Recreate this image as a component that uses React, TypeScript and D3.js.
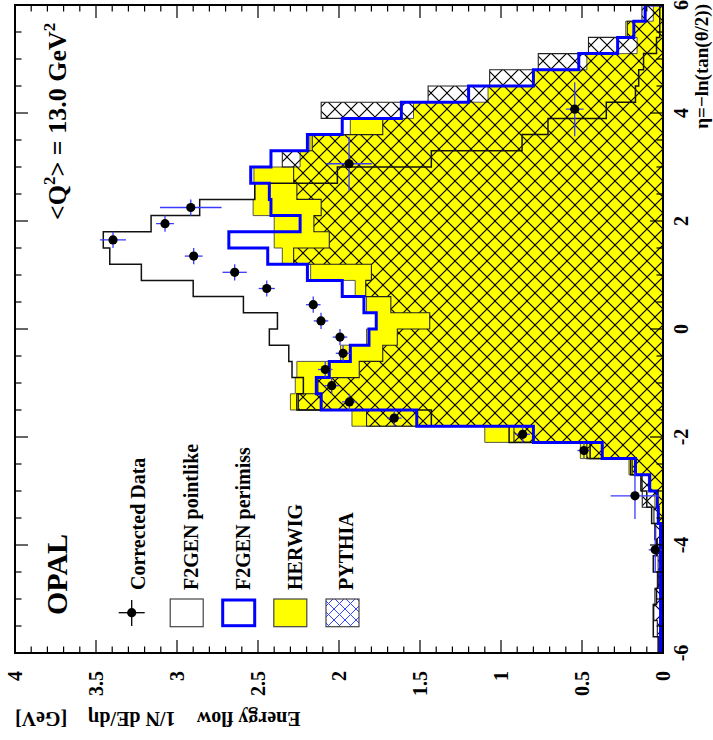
import React from "react";
import * as d3 from "d3";

// 40 eta bins of width 0.3 from -6 to 6
const binEdges = d3.range(0, 41).map((i) => -6 + i * 0.3);

const pointlike = [
  0.03, 0.06, 0.06, 0.04, 0.03, 0.06, 0.04, 0.05, 0.07, 0.1, 0.13, 0.2, 0.45, 0.95,
  1.43, 2.26, 2.22, 2.29, 2.31, 2.43, 2.38, 2.59, 2.9, 3.22, 3.415, 3.455, 3.16, 2.86,
  2.52, 2.01, 1.43, 0.87, 0.71, 0.35, 0.17, 0.15, 0.12, 0.04, 0.02, 0.02,
];
const perimiss = [
  0.015, 0.015, 0.015, 0.015, 0.015, 0.015, 0.015, 0.015, 0.029, 0.035, 0.082, 0.17,
  0.375, 0.8, 1.52, 2.11, 2.14, 2.06, 1.93, 1.815, 1.77, 1.846, 1.98, 2.195, 2.44, 2.68,
  2.24, 2.42, 2.43, 2.545, 2.42, 2.195, 1.98, 1.615, 1.2, 0.8, 0.52, 0.28, 0.18, 0.11,
];
const herwig = [
  0.01, 0.01, 0.01, 0.015, 0.015, 0.015, 0.02, 0.02, 0.03, 0.05, 0.09, 0.21, 0.51, 1.1,
  1.92, 2.3, 2.27, 2.26, 1.99, 1.83, 1.77, 1.83, 1.9, 2.175, 2.35, 2.4, 2.4, 2.53, 2.52,
  2.525, 2.24, 2.18, 1.93, 1.54, 1.08, 0.8, 0.47, 0.16, 0.23, 0.06,
];
const pythia = [
  0.025, 0.035, 0.057, 0.05, 0.035, 0.03, 0.035, 0.045, 0.056, 0.128, 0.138, 0.19, 0.47,
  0.92, 1.83, 2.25, 2.13, 1.875, 1.73, 1.64, 1.44, 1.68, 1.835, 1.8, 2.28, 2.06, 2.155,
  2.11, 2.26, 2.28, 2.35, 2.165, 1.73, 2.11, 1.45, 1.07, 0.77, 0.46, 0.22, 0.13,
];

// corrected data
const dataEta = [
  -4.09, -3.09, -2.25, -1.95, -1.65, -1.35, -1.05, -0.75, -0.45, -0.15, 0.15, 0.45, 0.75,
  1.05, 1.35, 1.65, 1.95, 2.25, 3.06, 4.07,
];
const dataE = [
  0.048, 0.173, 0.488, 0.866, 1.659, 1.936, 2.045, 2.085, 1.975, 1.994, 2.111, 2.159,
  2.446, 2.644, 2.897, 3.395, 3.074, 2.915, 1.938, 0.545,
];
const dataEtaErr = [
  0.43, 0.43, 0.15, 0.15, 0.15, 0.15, 0.15, 0.15, 0.15, 0.15, 0.15, 0.15, 0.15, 0.15,
  0.15, 0.15, 0.15, 0.15, 0.5, 0.5,
];
const dataEErr = [
  0.04, 0.15, 0.04, 0.045, 0.045, 0.045, 0.045, 0.045, 0.045, 0.045, 0.045, 0.045, 0.05,
  0.075, 0.055, 0.08, 0.055, 0.19, 0.14, 0.055,
];

const energyTicks = [0, 0.5, 1, 1.5, 2, 2.5, 3, 3.5, 4];
const energyLabels = ["0", "0.5", "1", "1.5", "2", "2.5", "3", "3.5", "4"];
const etaTicks = [-6, -4, -2, 0, 2, 4, 6];
const etaLabels = ["-6", "-4", "-2", "0", "2", "4", "6"];
const legendLabels = ["Corrected Data", "F2GEN pointlike", "F2GEN perimiss", "HERWIG", "PYTHIA"];

const FONT = "'Liberation Serif', 'Times New Roman', serif";
const SIZE = 648;

const App = () => {
  const x = d3.scaleLinear().domain([-6, 6]).range([0, SIZE]);
  const y = d3.scaleLinear().domain([0, 4]).range([SIZE, 0]);

  const steps = (vals: number[]) => {
    const pts: [number, number][] = [[x(-6), y(0)]];
    vals.forEach((v, i) => {
      pts.push([x(binEdges[i]), y(v)]);
      pts.push([x(binEdges[i + 1]), y(v)]);
    });
    pts.push([x(6), y(0)]);
    return pts;
  };
  const area = d3
    .area<[number, number]>()
    .x((d) => d[0])
    .y0(y(0))
    .y1((d) => d[1]);
  const line = d3
    .line<[number, number]>()
    .x((d) => d[0])
    .y((d) => d[1]);

  const etaMinor = d3.range(-6, 6.001, 0.5);
  const eMinor = d3.range(0, 4.001, 0.1);

  const legendV = [116.7, 171.7, 223.7, 275.3, 327.5];
  const legendBase = [130, 183, 235, 287, 338];

  return (
    <svg
      width={713}
      height={740}
      style={{ position: "absolute", left: 0, top: 0, background: "#fff" }}
      fontFamily={FONT}
      fontWeight="bold"
    >
      <defs>
        <pattern id="hatch" patternUnits="userSpaceOnUse" width={16} height={16}>
          <path
            d="M0,0L16,16M-4,12L4,20M12,-4L20,4M16,0L0,16M-4,4L4,-4M12,20L20,12"
            stroke="#000"
            strokeWidth={1.2}
          />
        </pattern>
        <pattern id="hatchLeg" patternUnits="userSpaceOnUse" width={11} height={11}>
          <path
            d="M0,0L11,11M-3,8L3,14M8,-3L14,3M11,0L0,11M-3,3L3,-3M8,14L14,8"
            stroke="#3344ff"
            strokeWidth={1}
          />
        </pattern>
        <clipPath id="plotClip">
          <rect x={0} y={0} width={SIZE} height={SIZE} />
        </clipPath>
      </defs>

      <g transform="translate(15,653) rotate(-90)">
        <g clipPath="url(#plotClip)">
          <path d={area(steps(herwig)) ?? ""} fill="#ffff00" />
          <path d={line(steps(herwig)) ?? ""} fill="none" stroke="#444" strokeWidth={0.9} />
          <path d={area(steps(pythia)) ?? ""} fill="url(#hatch)" />
          <path d={line(steps(pythia)) ?? ""} fill="none" stroke="#222" strokeWidth={1.1} />
          <path d={line(steps(pointlike)) ?? ""} fill="none" stroke="#111" strokeWidth={1.5} />
          <path d={line(steps(perimiss)) ?? ""} fill="none" stroke="#0000ff" strokeWidth={3} />

          {dataEta.map((eta, i) => (
            <g key={i}>
              <line
                x1={x(eta - dataEtaErr[i])}
                x2={x(eta + dataEtaErr[i])}
                y1={y(dataE[i])}
                y2={y(dataE[i])}
                stroke="#3a3aff"
                strokeWidth={1.3}
              />
              <line
                x1={x(eta)}
                x2={x(eta)}
                y1={y(dataE[i] - dataEErr[i])}
                y2={y(dataE[i] + dataEErr[i])}
                stroke="#3a3aff"
                strokeWidth={1.3}
              />
              <circle cx={x(eta)} cy={y(dataE[i])} r={4.6} fill="#000" />
            </g>
          ))}
        </g>

        {/* ticks */}
        {etaMinor.map((t) => {
          const major = Math.abs(t % 2) < 1e-6;
          const len = major ? 13 : 6.5;
          return (
            <g key={"eta" + t} stroke="#000" strokeWidth={1.2}>
              <line x1={x(t)} x2={x(t)} y1={SIZE} y2={SIZE - len} />
              <line x1={x(t)} x2={x(t)} y1={0} y2={len} />
            </g>
          );
        })}
        {eMinor.map((t) => {
          const major = Math.abs((t * 2) % 1) < 1e-6 || Math.abs((t * 2) % 1 - 1) < 1e-6;
          const len = major ? 13 : 6.5;
          return (
            <g key={"e" + t.toFixed(1)} stroke="#000" strokeWidth={1.2}>
              <line x1={0} x2={len} y1={y(t)} y2={y(t)} />
              <line x1={SIZE} x2={SIZE - len} y1={y(t)} y2={y(t)} />
            </g>
          );
        })}
        <rect x={0} y={0} width={SIZE} height={SIZE} fill="none" stroke="#000" strokeWidth={2} />

        {/* tick labels */}
        {energyTicks.map((t, i) => (
          <text key={"el" + i} x={-18} y={y(t)} dy="0.35em" textAnchor="end" fontSize={20}>
            {energyLabels[i]}
          </text>
        ))}
        {etaTicks.map((t, i) => (
          <text key={"tl" + i} x={x(t)} y={673} textAnchor="middle" fontSize={20}>
            {etaLabels[i]}
          </text>
        ))}

        {/* axis titles */}
        <text transform="translate(-58.7,0) rotate(-90)" textAnchor="end" fontSize={20}>
          [GeV]
        </text>
        <text transform="translate(-58.7,73) rotate(-90)" textAnchor="end" fontSize={20}>
          1/N dE/dη
        </text>
        <text transform="translate(-58.7,181.7) rotate(-90)" textAnchor="end" fontSize={20}>
          Energy flow
        </text>
        <text x={649} y={693} textAnchor="end" fontSize={19}>
          η=−ln(tan(θ/2))
        </text>

        {/* labels */}
        <text x={38} y={51.7} fontSize={30}>
          OPAL
        </text>
        <text x={433} y={51} fontSize={26}>
          {"<Q"}
          <tspan fontSize={17} dy={-11}>
            2
          </tspan>
          <tspan dy={11}>{"> = 13.0 GeV"}</tspan>
          <tspan fontSize={17} dy={-11}>
            2
          </tspan>
        </text>

        {/* legend */}
        <g>
          <line x1={27} x2={53} y1={legendV[0]} y2={legendV[0]} stroke="#000" strokeWidth={1.3} />
          <line x1={40.3} x2={40.3} y1={legendV[0] - 13} y2={legendV[0] + 13} stroke="#000" strokeWidth={1.3} />
          <circle cx={40.3} cy={legendV[0]} r={4.6} fill="#000" />
          <rect x={26.3} y={legendV[1] - 16.5} width={27.7} height={33} fill="#fff" stroke="#444" strokeWidth={1.2} />
          <rect x={27.3} y={legendV[2] - 16} width={25.7} height={32} fill="#fff" stroke="#0000ff" strokeWidth={3} />
          <rect x={26.3} y={legendV[3] - 16.5} width={27.7} height={33} fill="#ffff00" stroke="#444" strokeWidth={1.2} />
          <rect x={26.3} y={legendV[4] - 16.5} width={27.7} height={33} fill="url(#hatchLeg)" stroke="#444" strokeWidth={1.2} />
          {legendLabels.map((s, i) => (
            <text key={"lg" + i} x={63} y={legendBase[i]} fontSize={20}>
              {s}
            </text>
          ))}
        </g>
      </g>
    </svg>
  );
};

export default App;
